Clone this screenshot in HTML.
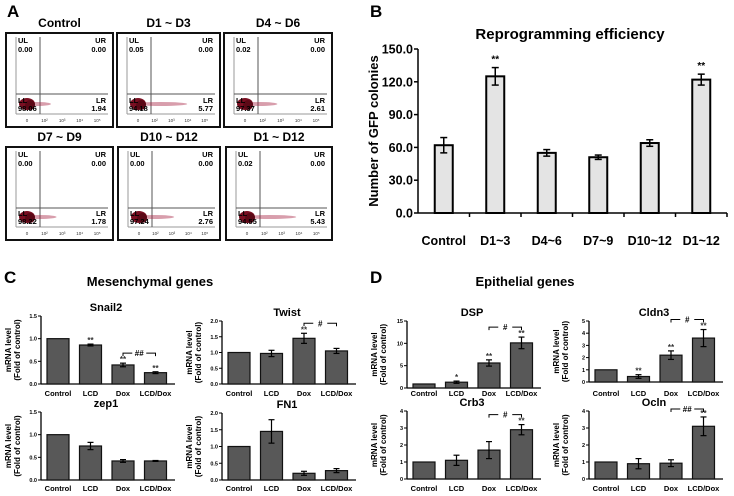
<!DOCTYPE html>
<html><head><meta charset="utf-8"><style>
html,body{margin:0;padding:0;background:#fff;}
svg{display:block;font-family:"Liberation Sans",sans-serif;}
</style></head><body>
<svg id="fig" width="734" height="496" viewBox="0 0 734 496" xmlns="http://www.w3.org/2000/svg">
<g id="panelA"></g>
<g id="panelB"></g>
<g id="panelC"></g>
<g id="panelD"></g>
</svg>
<script>
// ---------- Panel A data ----------
const flowTitles = ["Control","D1 ~ D3","D4 ~ D6","D7 ~ D9","D10 ~ D12","D1 ~ D12"];
const flowUL = ["0.00","0.05","0.02","0.00","0.00","0.02"];
const flowUR = ["0.00","0.00","0.00","0.00","0.00","0.00"];
const flowLL = ["98.06","94.18","97.37","98.22","97.24","94.55"];
const flowLR = ["1.94","5.77","2.61","1.78","2.76","5.43"];
// ---------- Panel B data ----------
const bCategories = ["Control","D1~3","D4~6","D7~9","D10~12","D1~12"];
const bValues = [62,125,55,51,64,122];
const bErrors = [7,8,3,2,3,5];
const bStars = ["","**","","","","**"];
const bTicks = [0,30,60,90,120,150];
const bTickLabels = ["0.0","30.0","60.0","90.0","120.0","150.0"];
// ---------- Panel C/D data ----------
const geneCategories = ["Control","LCD","Dox","LCD/Dox"];
const snail2Values = [1.0,0.86,0.42,0.25];
const snail2Errors = [0,0.02,0.04,0.02];
const snail2Stars = ["","**","**","**"];
const snail2Ticks = [0,0.5,1.0,1.5];
const twistValues = [1.0,0.97,1.45,1.05];
const twistErrors = [0,0.1,0.16,0.08];
const twistStars = ["","","**",""];
const twistTicks = [0,0.5,1.0,1.5,2.0];
const zep1Values = [1.0,0.75,0.42,0.42];
const zep1Errors = [0,0.08,0.03,0.01];
const zep1Stars = ["","","",""];
const fn1Values = [1.0,1.45,0.2,0.28];
const fn1Errors = [0,0.35,0.06,0.06];
const fn1Stars = ["","","",""];
const dspValues = [0.9,1.3,5.6,10.1];
const dspErrors = [0,0.25,0.7,1.3];
const dspStars = ["","*","**","**"];
const dspTicks = [0,5,10,15];
const cldn3Values = [1.0,0.45,2.2,3.6];
const cldn3Errors = [0,0.15,0.35,0.7];
const cldn3Stars = ["","**","**","**"];
const cldn3Ticks = [0,1,2,3,4,5];
const crb3Values = [1.0,1.1,1.7,2.9];
const crb3Errors = [0,0.3,0.5,0.3];
const crb3Stars = ["","","","**"];
const ocRTicks = [0,1,2,3,4];
const oclnValues = [1.0,0.9,0.93,3.1];
const oclnErrors = [0,0.3,0.2,0.55];
const oclnStars = ["","","","**"];

const NS="http://www.w3.org/2000/svg";
function mk(parent,tag,attrs,text){const e=document.createElementNS(NS,tag);for(const k in attrs)e.setAttribute(k,attrs[k]);if(text!==undefined)e.textContent=text;parent.appendChild(e);return e;}

// ---------- Panel A ----------
(function(){
  const g=document.getElementById('panelA');
  const lab=mk(g,'text',{x:7,y:17,'font-size':17,'font-weight':'bold'},'A');
  
  
  const boxes=[[5,32,109,96],[116,32,105,96],[223,32,110,96],[5,146,109,95],[117,146,104,95],[225,146,108,95]];
  const streak=[1,1.9,1.3,1.2,1.4,1.9];
  boxes.forEach((b,i)=>{
    const [x,y,w,h]=b;
    const p=mk(g,'g',{});
    
    
    const t=mk(p,'text',{x:x+w/2,y:y-5,'font-size':12,'font-weight':'bold','text-anchor':'middle'},flowTitles[i]);
    
    
    mk(p,'rect',{x:x+1,y:y+1,width:w-2,height:h-2,fill:'#fff',stroke:'#111','stroke-width':2});
    const ax=x+11, top=y+5, bot=y+h-14, right=x+w-6;
    mk(p,'line',{x1:ax,y1:top,x2:ax,y2:bot,stroke:'#999','stroke-width':1});
    mk(p,'line',{x1:ax,y1:bot,x2:right,y2:bot,stroke:'#999','stroke-width':1});
    const qx=x+35, qy=y+62;
    mk(p,'line',{x1:qx,y1:top,x2:qx,y2:bot,stroke:'#555','stroke-width':1});
    mk(p,'line',{x1:ax,y1:qy,x2:right,y2:qy,stroke:'#555','stroke-width':1});
    const cy=y+h-24;
    mk(p,'ellipse',{cx:x+18+streak[i]*14,cy:cy,rx:streak[i]*14,ry:2,fill:'#a82848',opacity:0.45});
    mk(p,'ellipse',{cx:x+22,cy:cy,rx:8,ry:6,fill:'#7a0f22'});
    mk(p,'ellipse',{cx:x+25,cy:cy+1,rx:5,ry:5,fill:'#5c0816'});
    const fs=7.5;
    mk(p,'text',{x:ax+2,y:y+11,'font-size':fs,'font-weight':'bold'},'UL');
    mk(p,'text',{x:ax+2,y:y+20,'font-size':fs,'font-weight':'bold'},flowUL[i]);
    mk(p,'text',{x:right-2,y:y+11,'font-size':fs,'font-weight':'bold','text-anchor':'end'},'UR');
    mk(p,'text',{x:right-2,y:y+20,'font-size':fs,'font-weight':'bold','text-anchor':'end'},flowUR[i]);
    mk(p,'text',{x:ax+2,y:y+h-25,'font-size':fs,'font-weight':'bold'},'LL');
    mk(p,'text',{x:ax+2,y:y+h-17,'font-size':fs,'font-weight':'bold'},flowLL[i]);
    mk(p,'text',{x:right-2,y:y+h-25,'font-size':fs,'font-weight':'bold','text-anchor':'end'},'LR');
    mk(p,'text',{x:right-2,y:y+h-17,'font-size':fs,'font-weight':'bold','text-anchor':'end'},flowLR[i]);
    ['0','10²','10³','10⁴','10⁵'].forEach((s,k)=>{mk(p,'text',{x:x+22+k*(w-30)/4.5,y:y+h-6,'font-size':4.5,fill:'#333','text-anchor':'middle'},s);});
  });
})();

// ---------- Panel B ----------
(function(){
  const g=document.getElementById('panelB');
  const L=mk(g,'text',{x:370,y:17,'font-size':17,'font-weight':'bold'},'B');
  
  
  const T=mk(g,'text',{x:570,y:39,'font-size':15,'font-weight':'bold','text-anchor':'middle'},'Reprogramming efficiency');
  
  
  const x0=418,x1=727,y0=213,yT=49,max=150;
  const ys=v=>y0-(v/max)*(y0-yT);
  const step=(x1-x0)/bCategories.length;
  const yl=mk(g,'text',{transform:'translate(378,131) rotate(-90)','font-size':13,'font-weight':'bold','text-anchor':'middle'},'Number of GFP colonies');
  
  
  mk(g,'line',{x1:x0,y1:yT,x2:x0,y2:y0,stroke:'#000','stroke-width':1.5});
  mk(g,'line',{x1:x0,y1:y0,x2:x1,y2:y0,stroke:'#000','stroke-width':1.5});
  bTicks.forEach((v,i)=>{
    mk(g,'line',{x1:x0-4,y1:ys(v),x2:x0,y2:ys(v),stroke:'#000','stroke-width':1.5});
    const t=mk(g,'text',{x:x0-5,y:ys(v)+4.5,'font-size':12.5,'font-weight':'bold','text-anchor':'end'},bTickLabels[i]);
    
    
  });
  bCategories.forEach((c,i)=>{
    const cx=x0+step*(i+0.5);
    mk(g,'line',{x1:x0+step*(i+1),y1:y0,x2:x0+step*(i+1),y2:y0+4,stroke:'#000','stroke-width':1.5});
    const r=mk(g,'rect',{x:cx-9,y:ys(bValues[i]),width:18,height:y0-ys(bValues[i]),fill:'#e4e4e4',stroke:'#000','stroke-width':2});
    
    
    const e1=ys(bValues[i]+bErrors[i]),e2=ys(bValues[i]-bErrors[i]);
    mk(g,'line',{x1:cx,y1:e1,x2:cx,y2:e2,stroke:'#000','stroke-width':1.5});
    mk(g,'line',{x1:cx-3.5,y1:e1,x2:cx+3.5,y2:e1,stroke:'#000','stroke-width':1.5});
    mk(g,'line',{x1:cx-3.5,y1:e2,x2:cx+3.5,y2:e2,stroke:'#000','stroke-width':1.5});
    if(bStars[i]) mk(g,'text',{x:cx,y:e1-5,'font-size':10,'font-weight':'bold','text-anchor':'middle'},bStars[i]);
    const t=mk(g,'text',{x:cx,y:245,'font-size':12.5,'font-weight':'bold','text-anchor':'middle'},c);
    
    
  });
})();

// ---------- Panels C/D ----------
function geneChart(g,name,title,ax,y0,yT,max,ticks,tickFmt,values,errors,stars,bracket,labelY){
  const c=mk(g,'g',{});
  
  
  const ys=v=>y0-(v/max)*(y0-yT);
  const step=32.5;
  const xEnd=ax+step*4+4;
  const t=mk(c,'text',{x:ax+65,y:yT-5,'font-size':11,'font-weight':'bold','text-anchor':'middle'},title);
  
  
  const midY=(y0+yT)/2;
  const yl=mk(c,'text',{transform:`translate(${ax-30},${midY}) rotate(-90)`,'font-size':8,'font-weight':'bold','text-anchor':'middle'},'mRNA level');
  
  
  mk(c,'text',{transform:`translate(${ax-21},${midY}) rotate(-90)`,'font-size':8,'font-weight':'bold','text-anchor':'middle'},'(Fold of control)');
  mk(c,'line',{x1:ax,y1:yT,x2:ax,y2:y0,stroke:'#000','stroke-width':1.3});
  mk(c,'line',{x1:ax,y1:y0,x2:xEnd,y2:y0,stroke:'#000','stroke-width':1.3});
  ticks.forEach(v=>{
    mk(c,'line',{x1:ax-3,y1:ys(v),x2:ax,y2:ys(v),stroke:'#000','stroke-width':1});
    mk(c,'text',{x:ax-4,y:ys(v)+2,'font-size':5.5,'font-weight':'bold','text-anchor':'end'},v.toFixed(tickFmt));
  });
  geneCategories.forEach((cat,i)=>{
    const cx=ax+17+step*i;
    const r=mk(c,'rect',{x:cx-11,y:ys(values[i]),width:22,height:y0-ys(values[i]),fill:'#585858',stroke:'#111','stroke-width':1.2});
    
    
    let top=ys(values[i]);
    if(errors[i]>0){
      const e1=ys(values[i]+errors[i]),e2=ys(values[i]-errors[i]);
      mk(c,'line',{x1:cx,y1:e1,x2:cx,y2:e2,stroke:'#000','stroke-width':1.2});
      mk(c,'line',{x1:cx-3,y1:e1,x2:cx+3,y2:e1,stroke:'#000','stroke-width':1.2});
      mk(c,'line',{x1:cx-3,y1:e2,x2:cx+3,y2:e2,stroke:'#000','stroke-width':1.2});
      top=e1;
    }
    if(stars[i]) mk(c,'text',{x:cx,y:top-1,'font-size':8,'font-weight':'bold','text-anchor':'middle',fill:'#333'},stars[i]);
    const xl=mk(c,'text',{x:cx,y:labelY,'font-size':7.5,'font-weight':'bold','text-anchor':'middle'},cat);
    
    
  });
  if(bracket){
    const a=ax+17+step*2,b=ax+17+step*3;
    const hi=Math.min(ys(values[2]+errors[2]),ys(values[3]+errors[3]));
    const by=Math.max(yT-2,hi-10);
    const m=(a+b)/2;
    mk(c,'path',{d:`M${a},${by+3} L${a},${by} L${m-7},${by} M${m+7},${by} L${b},${by} L${b},${by+3}`,stroke:'#000','stroke-width':1,fill:'none'});
    mk(c,'text',{x:m,y:by+3,'font-size':8,'font-weight':'bold','text-anchor':'middle'},bracket);
  }
}
(function(){
  const g=document.getElementById('panelC');
  const L=mk(g,'text',{x:4,y:283,'font-size':17,'font-weight':'bold'},'C');
  
  
  const T=mk(g,'text',{x:150,y:286,'font-size':13,'font-weight':'bold','text-anchor':'middle'},'Mesenchymal genes');
  
  
  geneChart(g,'snail2','Snail2',41,384,316,1.5,snail2Ticks,1,snail2Values,snail2Errors,snail2Stars,'##',396);
  geneChart(g,'twist','Twist',222,384,321,2.0,twistTicks,1,twistValues,twistErrors,twistStars,'#',396);
  geneChart(g,'zep1','zep1',41,480,412,1.5,snail2Ticks,1,zep1Values,zep1Errors,zep1Stars,null,491);
  geneChart(g,'fn1','FN1',222,480,413,2.0,twistTicks,1,fn1Values,fn1Errors,fn1Stars,null,491);
})();
(function(){
  const g=document.getElementById('panelD');
  const L=mk(g,'text',{x:370,y:283,'font-size':17,'font-weight':'bold'},'D');
  
  
  const T=mk(g,'text',{x:525,y:286,'font-size':13,'font-weight':'bold','text-anchor':'middle'},'Epithelial genes');
  
  
  geneChart(g,'dsp','DSP',407,388,321,15,dspTicks,0,dspValues,dspErrors,dspStars,'#',396);
  geneChart(g,'cldn3','Cldn3',589,382,321,5,cldn3Ticks,0,cldn3Values,cldn3Errors,cldn3Stars,'#',396);
  geneChart(g,'crb3','Crb3',407,479,411,4,ocRTicks,0,crb3Values,crb3Errors,crb3Stars,'#',491);
  geneChart(g,'ocln','Ocln',589,479,411,4,ocRTicks,0,oclnValues,oclnErrors,oclnStars,'##',491);
})();
</script>
</body></html>
